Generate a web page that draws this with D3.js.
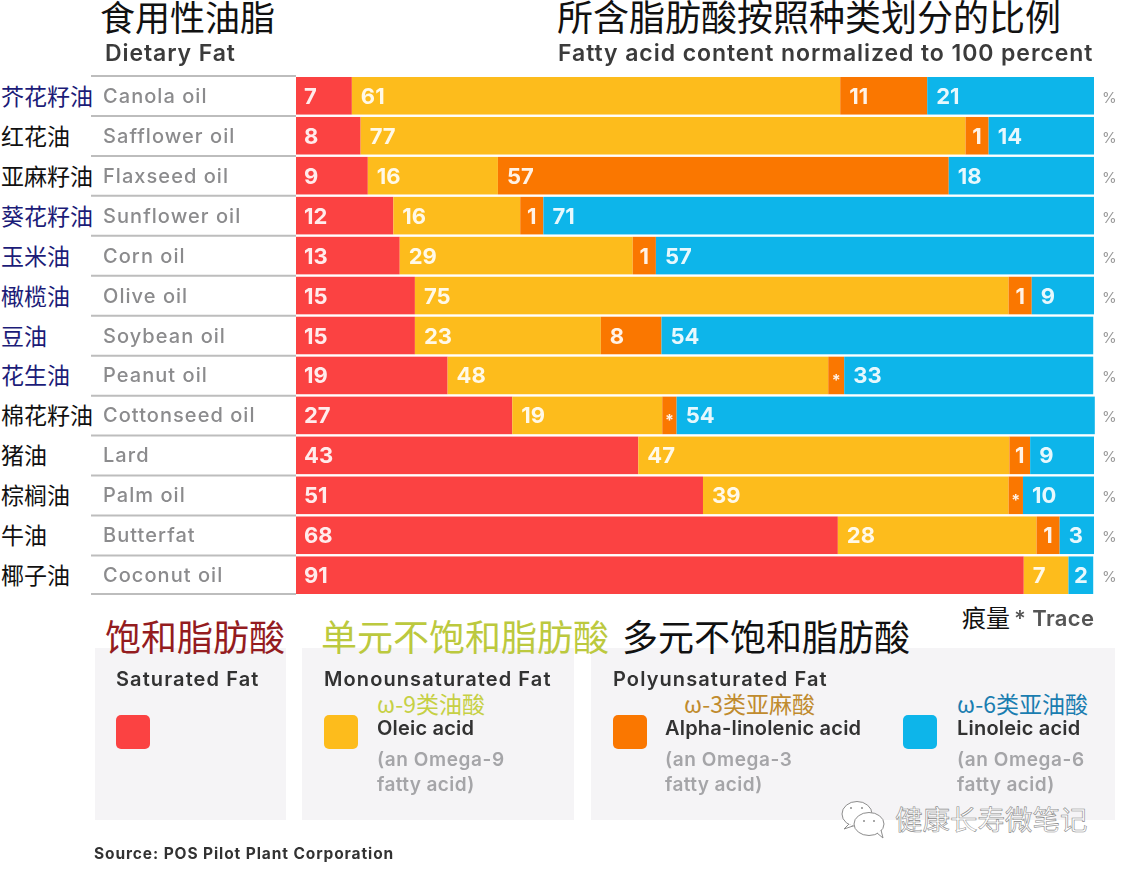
<!DOCTYPE html>
<html>
<head>
<meta charset="utf-8">
<script src="https://cdn.jsdelivr.net/npm/d3@7"></script>
<style>
  html, body { margin: 0; padding: 0; background: #fff; }
  text { font-family: Inter, "Noto Sans CJK SC", sans-serif; }
  .cn { font-family: "Noto Sans CJK SC", sans-serif; }
</style>
</head>
<body>
<svg id="chart" width="1125" height="870"></svg>
<script>
// oils, top to bottom
var oilsEn = ["Canola oil", "Safflower oil", "Flaxseed oil", "Sunflower oil", "Corn oil", "Olive oil", "Soybean oil", "Peanut oil", "Cottonseed oil", "Lard", "Palm oil", "Butterfat", "Coconut oil"];
var oilsCn = ["芥花籽油", "红花油", "亚麻籽油", "葵花籽油", "玉米油", "橄榄油", "豆油", "花生油", "棉花籽油", "猪油", "棕榈油", "牛油", "椰子油"];
var oilsCnColor = ["#1c1c78", "#111", "#111", "#1c1c78", "#1c1c78", "#1c1c78", "#1c1c78", "#1c1c78", "#111", "#111", "#111", "#111", "#111"];

// printed numbers
var satLabels = ["7", "8", "9", "12", "13", "15", "15", "19", "27", "43", "51", "68", "91"];
var monoLabels = ["61", "77", "16", "16", "29", "75", "23", "48", "19", "47", "39", "28", "7"];
var alaLabels = ["11", "1", "57", "1", "1", "1", "8", "*", "*", "1", "*", "1", ""];
var linLabels = ["21", "14", "18", "71", "57", "9", "54", "33", "54", "9", "10", "3", "2"];

// drawn bar lengths (small slices are widened in the original)
var satDrawn = [7.0, 8.1, 9.0, 12.2, 13.0, 14.9, 14.9, 19.0, 27.1, 42.9, 51.0, 67.9, 91.2];
var monoDrawn = [61.2, 75.8, 16.3, 15.9, 29.2, 74.4, 23.3, 47.7, 18.8, 46.5, 38.3, 24.9, 5.6];
var alaDrawn = [10.9, 2.9, 56.5, 2.9, 2.9, 2.9, 7.6, 2.0, 1.8, 2.6, 1.8, 2.9, 0];
var linDrawn = [20.9, 13.2, 18.2, 69.0, 54.9, 7.8, 54.1, 31.2, 52.4, 8.0, 8.9, 4.3, 3.1];

var seriesKeys = ["sat", "mono", "ala", "lin"];
var seriesColors = ["#fb4242", "#fdbc1d", "#fa7706", "#0db5ea"];
var seriesLabels = { sat: satLabels, mono: monoLabels, ala: alaLabels, lin: linLabels };

var svg = d3.select("#chart");

// slight softening, the original is a low quality photo
var defs = svg.append("defs");
defs.append("filter").attr("id", "soft").append("feGaussianBlur").attr("stdDeviation", 0.45);

var x = d3.scaleLinear().domain([0, 100]).range([296, 1094]);
var y = d3.scaleBand().domain(oilsEn).range([77, 594]).paddingInner(0.06);
var color = d3.scaleOrdinal().domain(seriesKeys).range(seriesColors);

var table = oilsEn.map((name, i) => {
    return { name: name, sat: satDrawn[i], mono: monoDrawn[i], ala: alaDrawn[i], lin: linDrawn[i] };
});
var stacked = d3.stack().keys(seriesKeys)(table);

// TITLES
function addText(parent, str, xPos, yPos, size, fill, weight, cls, spacing) {
    return parent.append("text")
        .attr("class", cls || null)
        .attr("x", xPos)
        .attr("y", yPos)
        .attr("font-size", size)
        .attr("font-weight", weight || 400)
        .attr("letter-spacing", spacing || 0)
        .attr("fill", fill)
        .text(str);
}

addText(svg, "食用性油脂", 100, 31, 35, "#111", 400, "cn");
addText(svg, "所含脂肪酸按照种类划分的比例", 557, 31, 36, "#111", 400, "cn");

var soft = svg.append("g").attr("filter", "url(#soft)");
addText(soft, "Dietary Fat", 105, 61, 23, "#3a3a3a", 600, null, 0.9);
addText(soft, "Fatty acid content normalized to 100 percent", 558, 61, 23, "#3a3a3a", 600, null, 0.93);

// ROW SEPARATORS
var rowEdges = oilsEn.map(d => y(d) - 1).concat([594]);
soft.selectAll(".sep").data(rowEdges).enter().append("line")
    .attr("class", "sep")
    .attr("x1", 91).attr("x2", 296)
    .attr("y1", d => d).attr("y2", d => d)
    .attr("stroke", "#bdbdbd")
    .attr("stroke-width", 2);

// OIL NAMES
soft.selectAll(".oil").data(oilsEn).enter().append("text")
    .attr("class", "oil")
    .attr("x", 103)
    .attr("y", d => y(d) + y.bandwidth() / 2 + 7)
    .attr("font-size", 20)
    .attr("font-weight", 500)
    .attr("letter-spacing", 1.05)
    .attr("fill", "#8b8b8d")
    .text(d => d);

svg.selectAll(".oilcn").data(oilsCn).enter().append("text")
    .attr("class", "cn oilcn")
    .attr("x", 1)
    .attr("y", (d, i) => y(oilsEn[i]) + y.bandwidth() / 2 + 9)
    .attr("font-size", 23)
    .attr("fill", (d, i) => oilsCnColor[i])
    .text(d => d);

// BARS
var layers = soft.selectAll(".layer").data(stacked).enter().append("g")
    .attr("class", "layer")
    .attr("fill", d => color(d.key));

layers.selectAll("rect").data(d => d).enter().append("rect")
    .attr("x", d => x(d[0]))
    .attr("y", d => y(d.data.name))
    .attr("width", d => x(d[1]) - x(d[0]))
    .attr("height", y.bandwidth());

// BAR LABELS
stacked.forEach((layer) => {
    var labels = seriesLabels[layer.key];
    soft.selectAll(".lab-" + layer.key).data(layer).enter().append("text")
        .attr("class", "lab-" + layer.key)
        .attr("x", (d, i) => {
            var narrow = d[1] - d[0] < 3.2;
            if (narrow) { return (x(d[0]) + x(d[1])) / 2; }
            return layer.key == "sat" ? x(d[0]) + 8 : x(d[0]) + 9;
        })
        .attr("text-anchor", d => d[1] - d[0] < 3.2 ? "middle" : "start")
        .attr("y", (d, i) => y(d.data.name) + y.bandwidth() / 2 + (labels[i] == "*" ? 11 : 8))
        .attr("font-size", (d, i) => labels[i] == "*" ? 16 : 22)
        .attr("font-weight", 700)
        .attr("fill", "#fff")
        .attr("fill-opacity", 0.9)
        .text((d, i) => labels[i]);
});

// PERCENT SIGNS
soft.selectAll(".pct").data(oilsEn).enter().append("text")
    .attr("class", "pct")
    .attr("x", 1102)
    .attr("y", d => y(d) + y.bandwidth() / 2 + 7)
    .attr("font-size", 15)
    .attr("fill", "#999")
    .text("%");

// TRACE NOTE
addText(svg, "痕量", 962, 627, 24, "#111", 400, "cn");
addText(soft, "* Trace", 1014, 626, 22, "#555", 600, null, 0.4);

// LEGEND
var panels = [[95, 191], [302, 272], [591, 524]];
soft.selectAll(".panel").data(panels).enter().append("rect")
    .attr("class", "panel")
    .attr("x", d => d[0]).attr("y", 648)
    .attr("width", d => d[1]).attr("height", 172)
    .attr("fill", "#f5f4f6");

addText(svg, "饱和脂肪酸", 105, 651, 36, "#941c1f", 400, "cn");
addText(svg, "单元不饱和脂肪酸", 321, 651, 36, "#bcc93e", 400, "cn");
addText(svg, "多元不饱和脂肪酸", 622, 651, 36, "#111", 400, "cn");

addText(soft, "Saturated Fat", 116, 686, 20, "#333", 600, null, 1.1);
addText(soft, "Monounsaturated Fat", 324, 686, 20, "#333", 600, null, 1.1);
addText(soft, "Polyunsaturated Fat", 613, 686, 20, "#333", 600, null, 1.1);

var swatchX = [116, 324, 613, 903];
var swatchNames = ["", "Oleic acid", "Alpha-linolenic acid", "Linoleic acid"];
var swatchNameX = [0, 377, 665, 957];
var omegaCn = ["", "ω-9类油酸", "ω-3类亚麻酸", "ω-6类亚油酸"];
var omegaCnX = [0, 377, 684, 957];
var omegaCnColor = ["", "#c6d044", "#c08b2e", "#1a7db0"];
var omegaEn = ["", "(an Omega-9", "(an Omega-3", "(an Omega-6"];

soft.selectAll(".swatch").data(seriesKeys).enter().append("rect")
    .attr("class", "swatch")
    .attr("x", (d, i) => swatchX[i])
    .attr("y", 715)
    .attr("width", 34)
    .attr("height", 34)
    .attr("rx", 5)
    .attr("fill", d => color(d));

swatchNames.forEach((name, i) => {
    if (!name) { return; }
    addText(svg, omegaCn[i], omegaCnX[i], 713, 23, omegaCnColor[i], 400, "cn");
    addText(soft, name, swatchNameX[i], 735, 20, "#333", 600, null, 0.2);
    addText(soft, omegaEn[i], swatchNameX[i], 766, 19, "#a5a5a8", 600, null, 0.6);
    addText(soft, "fatty acid)", swatchNameX[i], 791, 19, "#a5a5a8", 600, null, 0.4);
});

// SOURCE
addText(soft, "Source: POS Pilot Plant Corporation", 94, 859, 15.5, "#333", 700, null, 0.9);

// WATERMARK
var mark = svg.append("g").attr("fill", "#fff").attr("stroke", "#8d8d8d").attr("stroke-width", 1);
mark.append("ellipse").attr("cx", 857).attr("cy", 814).attr("rx", 15).attr("ry", 12.5);
mark.append("ellipse").attr("cx", 869).attr("cy", 824).attr("rx", 15).attr("ry", 11.5);
mark.append("path").attr("d", "M877 833 L883 838 L881 830");
mark.append("path").attr("d", "M849 824 L844 829 L853 826");
var eyes = [[851, 808], [862, 808], [864, 821], [874, 821]];
mark.selectAll("circle").data(eyes).enter().append("circle")
    .attr("cx", d => d[0]).attr("cy", d => d[1]).attr("r", 1)
    .attr("fill", "#8d8d8d").attr("stroke", "none");
addText(svg, "健康长寿微笔记", 895, 830, 27.5, "#fff", 400, "cn")
    .attr("stroke", "#8a8a8a")
    .attr("stroke-width", 0.6);
</script>
</body>
</html>
